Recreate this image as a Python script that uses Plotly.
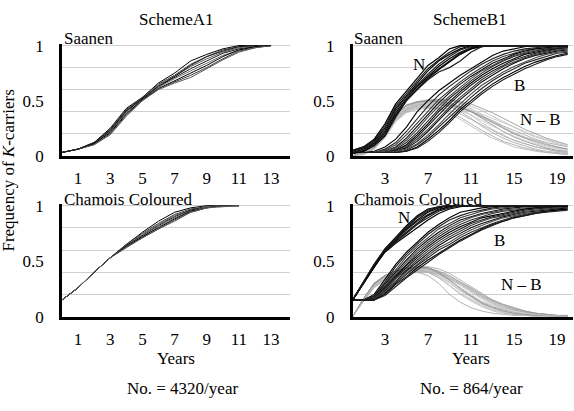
import plotly.graph_objects as go

W, H = 574, 411

# ---------------- data (frequencies in hundredths) ----------------
years_a_sa = list(range(0, 14))
years_a_cc = list(range(0, 12))
years_b = list(range(0, 21))

sa_a1 = [
    [3, 6, 12, 25, 43, 53, 66, 75, 86, 92, 97, 100, 100, 100],
    [3, 6, 12, 24, 42, 53, 65, 73, 83, 90, 96, 99, 100, 100],
    [3, 6, 11, 23, 41, 52, 64, 72, 81, 88, 94, 98, 100, 100],
    [3, 6, 11, 22, 40, 52, 63, 71, 79, 86, 93, 97, 99, 100],
    [3, 6, 11, 22, 39, 51, 62, 70, 77, 84, 91, 96, 99, 100],
    [3, 6, 11, 21, 38, 51, 61, 68, 75, 82, 90, 96, 99, 100],
    [3, 6, 10, 20, 37, 50, 61, 67, 73, 80, 88, 95, 98, 100],
    [3, 6, 10, 19, 36, 50, 60, 66, 71, 79, 87, 94, 98, 100],
    [3, 6, 12, 23, 41, 52, 63, 72, 82, 90, 95, 99, 100, 100],
]

cc_a1 = [
    [15, 26, 40, 53, 65, 76, 86, 94, 98, 100, 100, 100],
    [15, 26, 40, 53, 65, 75, 84, 92, 97, 99, 100, 100],
    [15, 26, 40, 53, 64, 74, 83, 91, 96, 99, 100, 100],
    [15, 26, 40, 53, 64, 73, 82, 90, 96, 99, 100, 100],
    [15, 26, 40, 53, 63, 72, 81, 89, 95, 99, 100, 100],
    [15, 26, 40, 53, 63, 72, 80, 88, 95, 98, 100, 100],
    [15, 26, 40, 53, 63, 71, 79, 87, 94, 98, 100, 100],
    [15, 26, 40, 53, 62, 71, 79, 86, 94, 98, 99, 100],
]

sa_b1_n = [
    [5, 8, 15, 29, 47, 59, 70, 82, 89, 97, 100, 100, 100, 100, 100, 100, 100, 100, 100, 100, 100],
    [5, 8, 14, 27, 45, 57, 68, 79, 87, 94, 99, 100, 100, 100, 100, 100, 100, 100, 100, 100, 100],
    [4, 7, 13, 25, 43, 55, 66, 77, 86, 92, 97, 100, 100, 100, 100, 100, 100, 100, 100, 100, 100],
    [3, 6, 12, 23, 41, 54, 64, 74, 83, 90, 96, 99, 100, 100, 100, 100, 100, 100, 100, 100, 100],
    [2, 5, 11, 21, 39, 52, 63, 72, 81, 88, 94, 98, 100, 100, 100, 100, 100, 100, 100, 100, 100],
    [2, 4, 10, 19, 37, 51, 61, 71, 79, 86, 93, 97, 100, 100, 100, 100, 100, 100, 100, 100, 100],
    [2, 4, 9, 18, 36, 50, 60, 70, 78, 85, 92, 97, 99, 100, 100, 100, 100, 100, 100, 100, 100],
    [3, 5, 9, 18, 35, 50, 60, 69, 76, 80, 86, 94, 99, 100, 100, 100, 100, 100, 100, 100, 100],
]

sa_b1_b = [
    [3, 3, 4, 8, 15, 26, 40, 50, 59, 66, 73, 79, 85, 91, 95, 97, 99, 100, 100, 100, 100],
    [3, 3, 3, 6, 12, 22, 34, 45, 55, 63, 70, 77, 83, 88, 92, 95, 97, 98, 99, 100, 100],
    [3, 3, 3, 5, 10, 19, 30, 41, 51, 59, 67, 74, 80, 86, 90, 93, 96, 97, 98, 99, 100],
    [3, 3, 3, 4, 8, 16, 27, 38, 48, 57, 65, 72, 78, 84, 88, 92, 95, 97, 98, 99, 99],
    [3, 3, 3, 4, 7, 14, 24, 35, 45, 54, 62, 70, 77, 82, 87, 91, 94, 96, 97, 98, 99],
    [3, 3, 3, 3, 6, 12, 21, 32, 42, 52, 60, 68, 75, 81, 86, 90, 93, 95, 97, 98, 99],
    [3, 3, 3, 3, 5, 10, 19, 29, 40, 49, 58, 66, 73, 79, 84, 88, 92, 94, 96, 97, 98],
    [3, 3, 3, 3, 5, 9, 17, 27, 37, 47, 56, 64, 71, 77, 82, 87, 90, 93, 95, 97, 98],
    [3, 3, 3, 3, 4, 8, 15, 24, 34, 44, 53, 61, 69, 75, 81, 85, 89, 92, 94, 96, 97],
    [3, 3, 3, 3, 4, 7, 13, 22, 32, 42, 51, 59, 67, 73, 79, 84, 88, 91, 93, 95, 96],
    [3, 3, 3, 3, 4, 6, 11, 19, 28, 38, 47, 56, 64, 70, 76, 81, 85, 89, 92, 94, 95],
    [3, 3, 3, 3, 3, 5, 10, 17, 26, 35, 44, 53, 61, 68, 74, 79, 84, 87, 90, 93, 94],
    [3, 3, 3, 3, 3, 4, 8, 15, 23, 32, 42, 50, 58, 65, 71, 76, 81, 85, 88, 91, 93],
    [3, 3, 3, 3, 3, 4, 7, 13, 21, 30, 40, 48, 56, 63, 69, 74, 79, 83, 87, 90, 92],
]

sa_b1_nb = [
    [0, 2, 7, 18, 33, 42, 46, 48, 48, 45, 40, 34, 27, 21, 16, 12, 9, 6, 4, 3, 2],
    [0, 2, 8, 20, 35, 44, 47, 49, 49, 47, 43, 37, 30, 24, 19, 14, 11, 8, 6, 4, 3],
    [0, 3, 9, 21, 36, 45, 48, 50, 50, 48, 45, 40, 34, 28, 22, 17, 13, 10, 7, 5, 4],
    [0, 3, 9, 22, 37, 45, 49, 51, 51, 50, 47, 43, 37, 31, 25, 20, 16, 12, 9, 7, 5],
    [0, 2, 8, 20, 35, 43, 46, 47, 47, 46, 44, 41, 36, 31, 26, 21, 17, 14, 11, 8, 6],
    [0, 2, 7, 19, 34, 42, 45, 46, 46, 45, 43, 40, 36, 32, 27, 23, 19, 15, 12, 10, 8],
    [0, 3, 9, 21, 37, 45, 48, 49, 50, 50, 48, 45, 41, 36, 31, 26, 21, 17, 14, 11, 9],
    [0, 3, 10, 23, 38, 46, 49, 50, 51, 51, 49, 47, 43, 39, 34, 29, 24, 20, 16, 13, 10],
    [0, 2, 8, 20, 35, 43, 45, 46, 46, 44, 41, 37, 32, 27, 22, 18, 14, 11, 8, 6, 4],
    [0, 2, 7, 18, 33, 41, 44, 45, 44, 42, 38, 33, 28, 23, 18, 14, 11, 8, 6, 4, 3],
    [0, 1, 6, 17, 32, 40, 43, 44, 43, 40, 35, 29, 23, 18, 13, 10, 7, 5, 3, 2, 1],
    [0, 1, 6, 16, 31, 39, 42, 43, 42, 38, 33, 27, 21, 16, 12, 8, 6, 4, 3, 2, 1],
    [0, 3, 9, 22, 37, 46, 49, 50, 49, 47, 44, 40, 35, 30, 25, 20, 16, 13, 10, 8, 6],
    [0, 2, 8, 20, 36, 44, 47, 48, 48, 47, 45, 42, 38, 34, 30, 26, 22, 18, 15, 12, 10],
]

cc_b1_n = [
    [15, 31, 47, 61, 72, 82, 91, 97, 99, 100, 100, 100, 100, 100, 100, 100, 100, 100, 100, 100, 100],
    [15, 31, 47, 60, 71, 80, 89, 95, 99, 100, 100, 100, 100, 100, 100, 100, 100, 100, 100, 100, 100],
    [15, 30, 46, 60, 70, 79, 87, 94, 98, 100, 100, 100, 100, 100, 100, 100, 100, 100, 100, 100, 100],
    [15, 30, 46, 60, 69, 78, 86, 92, 97, 99, 100, 100, 100, 100, 100, 100, 100, 100, 100, 100, 100],
    [15, 30, 46, 59, 68, 76, 84, 91, 96, 99, 100, 100, 100, 100, 100, 100, 100, 100, 100, 100, 100],
    [15, 30, 45, 59, 67, 75, 83, 89, 95, 98, 100, 100, 100, 100, 100, 100, 100, 100, 100, 100, 100],
    [15, 30, 45, 58, 66, 73, 80, 87, 93, 97, 99, 100, 100, 100, 100, 100, 100, 100, 100, 100, 100],
    [15, 31, 47, 61, 71, 81, 90, 96, 99, 100, 100, 100, 100, 100, 100, 100, 100, 100, 100, 100, 100],
]

cc_b1_b = [
    [15, 15, 20, 33, 47, 58, 67, 76, 83, 89, 94, 96, 98, 99, 100, 100, 100, 100, 100, 100, 100],
    [15, 15, 19, 31, 45, 56, 65, 74, 81, 87, 91, 94, 96, 98, 99, 100, 100, 100, 100, 100, 100],
    [15, 15, 18, 30, 43, 54, 63, 71, 79, 84, 89, 92, 95, 97, 98, 99, 99, 100, 100, 100, 100],
    [15, 15, 18, 29, 41, 51, 61, 69, 76, 82, 87, 90, 93, 95, 97, 98, 99, 99, 100, 100, 100],
    [15, 15, 17, 28, 39, 49, 59, 67, 74, 80, 85, 89, 92, 94, 96, 97, 98, 99, 99, 100, 100],
    [15, 15, 17, 27, 37, 47, 57, 65, 72, 78, 83, 87, 90, 93, 95, 96, 97, 98, 99, 99, 100],
    [15, 15, 16, 26, 36, 46, 55, 63, 70, 76, 81, 85, 89, 91, 93, 95, 97, 98, 98, 99, 99],
    [15, 15, 16, 25, 35, 44, 53, 61, 68, 74, 79, 84, 87, 90, 92, 94, 96, 97, 98, 98, 99],
    [15, 15, 16, 24, 34, 42, 51, 59, 66, 72, 77, 82, 86, 89, 91, 93, 95, 96, 97, 98, 99],
    [15, 15, 15, 23, 32, 41, 49, 57, 64, 70, 75, 80, 84, 87, 90, 92, 94, 95, 96, 97, 98],
    [15, 15, 15, 22, 31, 39, 47, 55, 62, 67, 73, 78, 82, 86, 89, 91, 93, 94, 95, 96, 97],
    [15, 15, 15, 21, 30, 38, 46, 53, 60, 65, 71, 76, 80, 84, 87, 90, 92, 94, 95, 96, 97],
    [15, 15, 15, 20, 29, 36, 44, 51, 57, 63, 69, 74, 79, 83, 86, 89, 91, 93, 95, 96, 97],
    [15, 15, 15, 19, 27, 35, 42, 49, 56, 62, 68, 73, 78, 82, 86, 89, 91, 93, 94, 95, 96],
]

cc_b1_nb = [
    [0, 15, 27, 34, 38, 40, 40, 37, 30, 20, 13, 8, 5, 3, 2, 1, 1, 0, 0, 0, 0],
    [0, 16, 29, 36, 40, 42, 42, 40, 35, 28, 21, 15, 10, 6, 4, 2, 1, 1, 0, 0, 0],
    [0, 16, 30, 37, 41, 43, 44, 43, 39, 33, 26, 19, 13, 9, 6, 4, 2, 1, 1, 0, 0],
    [0, 15, 28, 35, 39, 41, 42, 42, 39, 34, 28, 22, 16, 11, 7, 5, 3, 2, 1, 1, 0],
    [0, 14, 27, 34, 38, 40, 41, 41, 39, 35, 30, 24, 18, 13, 9, 6, 4, 3, 2, 1, 1],
    [0, 16, 29, 36, 40, 43, 45, 45, 43, 39, 33, 27, 21, 15, 11, 8, 5, 3, 2, 1, 1],
    [0, 15, 28, 35, 39, 41, 42, 41, 37, 31, 24, 18, 12, 8, 5, 3, 2, 1, 1, 0, 0],
    [0, 16, 30, 37, 41, 43, 44, 44, 41, 37, 31, 25, 19, 14, 10, 7, 5, 3, 2, 1, 1],
    [0, 15, 27, 34, 38, 40, 41, 40, 36, 30, 23, 16, 11, 7, 4, 2, 1, 1, 0, 0, 0],
    [0, 14, 26, 33, 37, 39, 40, 40, 38, 34, 29, 23, 17, 12, 8, 6, 4, 2, 1, 1, 0],
    [0, 16, 29, 36, 40, 42, 43, 43, 40, 36, 31, 26, 20, 15, 11, 8, 5, 3, 2, 1, 1],
    [0, 15, 28, 35, 39, 41, 42, 40, 35, 28, 20, 14, 9, 5, 3, 2, 1, 0, 0, 0, 0],
    [0, 16, 30, 37, 41, 44, 45, 44, 40, 33, 25, 18, 12, 8, 5, 3, 2, 1, 1, 0, 0],
    [0, 15, 28, 36, 40, 42, 43, 42, 38, 32, 26, 20, 14, 10, 7, 4, 3, 2, 1, 1, 0],
]

ticks_a = [1, 3, 5, 7, 9, 11, 13]
ticks_b = [3, 7, 11, 15, 19]
y_ticks = [0, 0.5, 1]
y_ticktext = ["0", "0.5", "1"]

# ---------------- figure ----------------
FONT = "'Liberation Serif', 'Times New Roman', serif"
FS = 17

def px(x):
    return x / W

def py(y):
    return 1 - y / H

fig = go.Figure()

def add_lines(data, years, xa, ya, colors, width):
    for i, row in enumerate(data):
        fig.add_trace(go.Scatter(
            x=years, y=[v / 100 for v in row], mode="lines",
            line=dict(color=colors[i % len(colors)], width=width),
            xaxis=xa, yaxis=ya, showlegend=False, hoverinfo="skip"))

dark = ["#000000", "#3a3a3a", "#5a5a5a", "#1a1a1a", "#6a6a6a"]
bcol = ["#000000", "#1e1e1e", "#3a3a3a", "#0a0a0a", "#4a4a4a", "#282828"]
gcol = ["#a0a0a0", "#b5b5b5", "#8e8e8e", "#c0c0c0", "#a8a8a8"]

add_lines(sa_a1, years_a_sa, "x", "y", dark, 1.0)
add_lines(sa_b1_nb, years_b, "x2", "y2", gcol, 0.8)
add_lines(sa_b1_b, years_b, "x2", "y2", bcol, 1.1)
add_lines(sa_b1_n, years_b, "x2", "y2", ["#000000", "#1e1e1e"], 1.2)
add_lines(cc_a1, years_a_cc, "x3", "y3", dark, 1.0)
add_lines(cc_b1_nb, years_b, "x4", "y4", gcol, 0.8)
add_lines(cc_b1_b, years_b, "x4", "y4", bcol, 1.1)
add_lines(cc_b1_n, years_b, "x4", "y4", ["#000000", "#1e1e1e"], 1.2)

# geometry (pixels)
L_x0, L_x1 = 62, 290
R_x0, R_x1 = 352.7, 573
T_y0, T_y1 = 154.5, 39.3      # value 0 / value 1
B_y0, B_y1 = 322.7, 206.7
YMAX = 1.012

def ydom(y0, y1):
    top = y0 - (y0 - y1) * YMAX
    return [py(y0), py(top)]

xa_common = dict(showgrid=False, zeroline=False, showline=True, linecolor="black",
                 linewidth=2.6, ticks="", tickmode="array",
                 tickfont=dict(family=FONT, size=FS, color="black"),
                 ticklabelstandoff=5)
ya_common = dict(range=[0, YMAX], showgrid=False, zeroline=False, showline=True,
                 linecolor="black", linewidth=2.6, ticks="", tickmode="array",
                 tickvals=y_ticks, ticktext=y_ticktext,
                 tickfont=dict(family=FONT, size=FS, color="black"),
                 ticklabelstandoff=12,
                 minor=dict(tickmode="array", tickvals=[0.2, 0.4, 0.6, 0.8, 1.0],
                            showgrid=True, gridcolor="#cfcfcf", gridwidth=1, ticks=""))

a_range = [0, (L_x1 - L_x0) / 16.08]
b_range = [0, (R_x1 - R_x0) / 10.75]

fig.update_layout(
    width=W, height=H, margin=dict(l=0, r=0, t=0, b=0),
    paper_bgcolor="white", plot_bgcolor="white", showlegend=False,
    xaxis=dict(domain=[px(L_x0), px(L_x1)], range=a_range, tickvals=ticks_a,
               anchor="y", **xa_common),
    yaxis=dict(domain=ydom(T_y0, T_y1), anchor="x", **ya_common),
    xaxis2=dict(domain=[px(R_x0), px(R_x1)], range=b_range, tickvals=ticks_b,
                anchor="y2", **xa_common),
    yaxis2=dict(domain=ydom(T_y0, T_y1), anchor="x2", **ya_common),
    xaxis3=dict(domain=[px(L_x0), px(L_x1)], range=a_range, tickvals=ticks_a,
                anchor="y3", **xa_common),
    yaxis3=dict(domain=ydom(B_y0, B_y1), anchor="x3", **ya_common),
    xaxis4=dict(domain=[px(R_x0), px(R_x1)], range=b_range, tickvals=ticks_b,
                anchor="y4", **xa_common),
    yaxis4=dict(domain=ydom(B_y0, B_y1), anchor="x4", **ya_common),
)

def text(x, y, s, xanchor="center", size=FS, angle=0):
    fig.add_annotation(x=px(x), y=py(y), xref="paper", yref="paper", text=s,
                       showarrow=False, xanchor=xanchor, yanchor="middle",
                       textangle=angle, font=dict(family=FONT, size=size, color="black"))

text(176, 12, "SchemeA1")
text(470, 12, "SchemeB1")
text(62, 32, "Saanen", "left")
text(352, 32, "Saanen", "left")
text(62, 200, "Chamois Coloured", "left")
text(352, 200, "Chamois Coloured", "left")
text(176, 367, "Years")
text(471, 367, "Years")
text(182, 398, "No. = 4320/year")
text(471, 398, "No. = 864/year")
text(9, 170, "Frequency of <i>K</i>-carriers", angle=-90)

text(419, 59, "N")
text(519, 81, "B")
text(540, 117, "N – B")
text(404, 219, "N")
text(500, 243, "B")
text(521, 289, "N – B")

fig.write_html("out.html", config={"displayModeBar": False},
               post_script="document.body.style.margin='0';document.body.style.padding='0';")
